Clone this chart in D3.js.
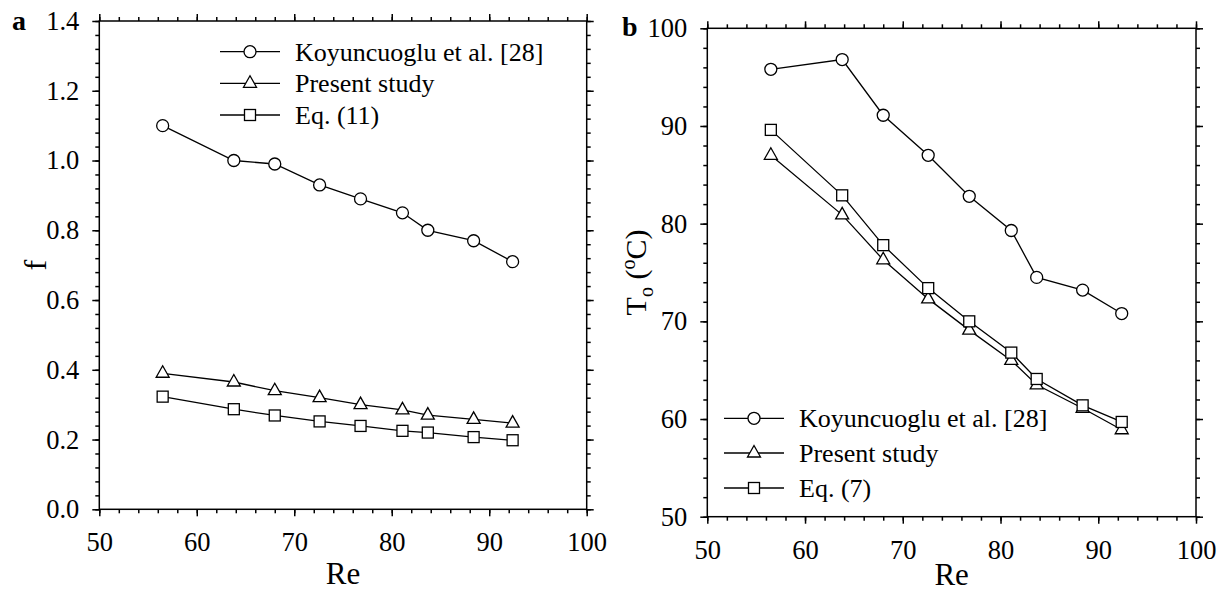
<!DOCTYPE html>
<html>
<head>
<meta charset="utf-8">
<script src="https://cdn.jsdelivr.net/npm/d3@7"></script>
<style>
  html, body { margin: 0; padding: 0; background: #fff; }
  svg { display: block; }
  text { font-family: "Liberation Serif", "Times New Roman", serif; fill: #000; }
</style>
</head>
<body>
<svg id="chart" width="1223" height="594"></svg>
<script>
// ---------- Data ----------
const re = [56.5, 63.8, 68.0, 72.6, 76.8, 81.1, 83.7, 88.4, 92.4];

// Panel a: friction factor f
const fKoyuncuoglu = [1.10, 1.00, 0.99, 0.93, 0.89, 0.85, 0.80, 0.77, 0.71];
const fPresent     = [0.39, 0.365, 0.34, 0.32, 0.30, 0.285, 0.27, 0.258, 0.247];
const fEq11        = [0.323, 0.287, 0.269, 0.252, 0.239, 0.225, 0.220, 0.207, 0.198];

// Panel b: outlet temperature To (°C)
const tKoyuncuoglu = [95.8, 96.8, 91.1, 87.0, 82.8, 79.3, 74.5, 73.2, 70.8];
const tPresent     = [87.0, 80.9, 76.3, 72.3, 69.1, 66.0, 63.5, 61.1, 58.9];
const tEq7         = [89.6, 82.9, 77.8, 73.4, 70.0, 66.8, 64.1, 61.4, 59.7];

const legendA = ["Koyuncuoglu et al. [28]", "Present study", "Eq. (11)"];
const legendB = ["Koyuncuoglu et al. [28]", "Present study", "Eq. (7)"];
const markers = ["circle", "triangle", "square"];

const xTicks = [50, 60, 70, 80, 90, 100];
const fTicks = [0.0, 0.2, 0.4, 0.6, 0.8, 1.0, 1.2, 1.4];
const tTicks = [50, 60, 70, 80, 90, 100];

// ---------- Drawing ----------
const svg = d3.select("#chart");

function drawMarker(g, type, x, y) {
  if (type === "circle") {
    g.append("circle").attr("cx", x).attr("cy", y).attr("r", 6)
      .attr("fill", "#fff").attr("stroke", "#000").attr("stroke-width", 1.3);
  } else if (type === "square") {
    g.append("rect").attr("x", x - 5.5).attr("y", y - 5.5).attr("width", 11).attr("height", 11)
      .attr("fill", "#fff").attr("stroke", "#000").attr("stroke-width", 1.3);
  } else {
    const p = [[x, y - 7.5], [x + 6.5, y + 4], [x - 6.5, y + 4]];
    g.append("path").attr("d", "M" + p.map(d => d.join(",")).join("L") + "Z")
      .attr("fill", "#fff").attr("stroke", "#000").attr("stroke-width", 1.3);
  }
}

function panel(opt) {
  const g = svg.append("g");
  const x = d3.scaleLinear().domain([50, 100]).range([opt.left, opt.right]);
  const y = d3.scaleLinear().domain(opt.ydomain).range([opt.bottom, opt.top]);

  const minorX = d3.range(50, 100.001, 2);
  const minorY = opt.minorY;

  // ticks (outward on all four sides)
  const axes = [
    [d3.axisBottom(x).tickValues(minorX).tickSize(4).tickFormat(""), `translate(0,${opt.bottom})`],
    [d3.axisTop(x).tickValues(minorX).tickSize(4).tickFormat(""), `translate(0,${opt.top})`],
    [d3.axisLeft(y).tickValues(minorY).tickSize(4).tickFormat(""), `translate(${opt.left},0)`],
    [d3.axisRight(y).tickValues(minorY).tickSize(4).tickFormat(""), `translate(${opt.right},0)`],
    [d3.axisTop(x).tickValues(xTicks).tickSize(7).tickFormat(""), `translate(0,${opt.top})`],
    [d3.axisRight(y).tickValues(opt.yticks).tickSize(7).tickFormat(""), `translate(${opt.right},0)`],
    [d3.axisBottom(x).tickValues(xTicks).tickSize(7).tickPadding(16).tickFormat(d3.format("d")), `translate(0,${opt.bottom})`],
    [d3.axisLeft(y).tickValues(opt.yticks).tickSize(7).tickPadding(13).tickFormat(opt.yfmt), `translate(${opt.left},0)`],
  ];
  axes.forEach(([ax, tr]) => {
    const a = g.append("g").attr("transform", tr).call(ax.tickSizeOuter(0));
    a.select(".domain").remove();
    a.selectAll("line").attr("stroke", "#000").attr("stroke-width", 1.5);
    a.selectAll("text").attr("font-size", 26.5).attr("font-family", "Liberation Serif").attr("fill", "#000");
  });

  // frame
  g.append("rect").attr("x", opt.left).attr("y", opt.top)
    .attr("width", opt.right - opt.left).attr("height", opt.bottom - opt.top)
    .attr("fill", "none").attr("stroke", "#000").attr("stroke-width", 1.5);

  // series
  const line = d3.line().x(d => x(d[0])).y(d => y(d[1]));
  opt.series.forEach((s, i) => {
    const pts = re.map((r, k) => [r, s[k]]);
    g.append("path").attr("d", line(pts)).attr("fill", "none")
      .attr("stroke", "#000").attr("stroke-width", 1.3);
  });
  opt.series.forEach((s, i) => {
    re.forEach((r, k) => drawMarker(g, markers[i], x(r), y(s[k])));
  });

  // legend
  opt.legend.forEach((name, i) => {
    const ly = opt.legY[i];
    g.append("line").attr("x1", opt.legX).attr("x2", opt.legX + 60)
      .attr("y1", ly).attr("y2", ly).attr("stroke", "#000").attr("stroke-width", 1.3);
    drawMarker(g, markers[i], opt.legX + 30, ly);
    g.append("text").attr("x", opt.legX + 75).attr("y", ly).attr("dy", "0.34em")
      .attr("font-size", 26).text(name);
  });

  // x title
  g.append("text").attr("x", (opt.left + opt.right) / 2).attr("y", opt.reY)
    .attr("text-anchor", "middle").attr("font-size", 31).text("Re");

  // panel letter
  g.append("text").attr("x", opt.letterX).attr("y", opt.letterY)
    .attr("font-size", 28).attr("font-weight", "bold").text(opt.letter);

  return { g, x, y };
}

const pa = panel({
  left: 99.3, right: 586.7, top: 21, bottom: 509.3,
  ydomain: [0, 1.4], yticks: fTicks, minorY: d3.range(0, 1.4001, 0.04),
  yfmt: d3.format(".1f"),
  series: [fKoyuncuoglu, fPresent, fEq11],
  legend: legendA, legX: 220, legY: [51.7, 83.3, 115],
  letter: "a", letterX: 12, letterY: 30, reY: 584
});
pa.g.append("text").attr("transform", `translate(46,${(21 + 509.3) / 2}) rotate(-90)`)
  .attr("text-anchor", "middle").attr("font-size", 32).text("f");

const pb = panel({
  left: 707.3, right: 1196, top: 28.3, bottom: 516.7,
  ydomain: [50, 100], yticks: tTicks, minorY: d3.range(50, 100.001, 2),
  yfmt: d3.format("d"),
  series: [tKoyuncuoglu, tPresent, tEq7],
  legend: legendB, legX: 724, legY: [418.3, 453, 488],
  letter: "b", letterX: 622, letterY: 36, reY: 585
});
const tl = pb.g.append("text").attr("transform", `translate(646,${(28.3 + 516.7) / 2}) rotate(-90)`)
  .attr("text-anchor", "middle").attr("font-size", 30);
tl.append("tspan").text("T");
tl.append("tspan").attr("font-size", 20).attr("dy", 7).text("o");
tl.append("tspan").attr("dy", -7).text(" (");
tl.append("tspan").attr("font-size", 20).attr("dy", -11).text("o");
tl.append("tspan").attr("dy", 11).text("C)");
</script>
</body>
</html>
